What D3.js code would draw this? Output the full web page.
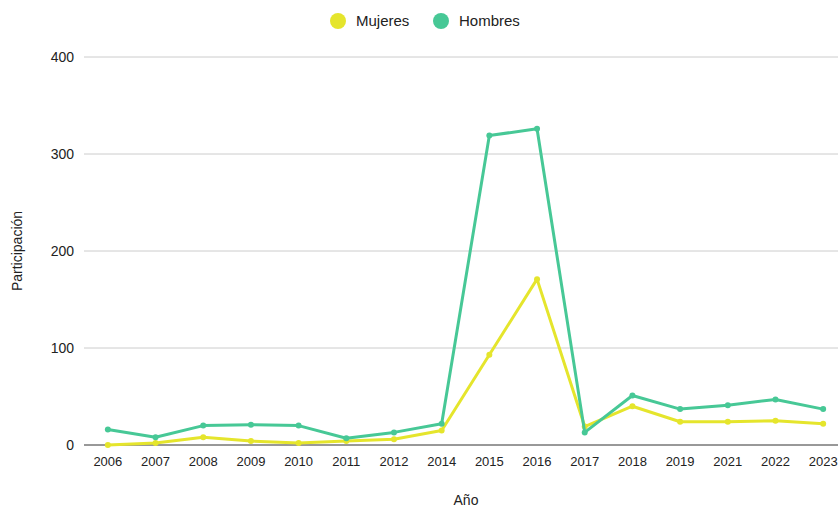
<!DOCTYPE html>
<html>
<head>
<meta charset="utf-8">
<script src="https://cdn.jsdelivr.net/npm/d3@7"></script>
<style>
  body { margin: 0; background: #fff; }
  svg { display: block; font-family: "Liberation Sans", Arial, sans-serif; }
</style>
</head>
<body>
<svg id="chart"></svg>
<script>
const years = ['2006','2007','2008','2009','2010','2011','2012','2014','2015','2016','2017','2018','2019','2021','2022','2023'];
const mujeres = [0, 2, 8, 4, 2, 4, 6, 15, 93, 171, 19, 40, 24, 24, 25, 22];
const hombres = [16, 8, 20, 21, 20, 7, 13, 22, 319, 326, 13, 51, 37, 41, 47, 37];
const yTicks = [0, 100, 200, 300, 400];

const series = [
  { name: 'Mujeres', values: mujeres, color: '#e5e52c' },
  { name: 'Hombres', values: hombres, color: '#47c896' }
];

const width = 838, height = 509;
const svg = d3.select('#chart').attr('width', width).attr('height', height);

const x = d3.scalePoint().domain(years).range([84, 847]).padding(0.5);
const y = d3.scaleLinear().domain([0, 400]).range([445, 57]);

// grid
svg.append('g')
  .selectAll('line')
  .data(yTicks.filter(d => d > 0))
  .join('line')
  .attr('x1', 84).attr('x2', width)
  .attr('y1', d => y(d)).attr('y2', d => y(d))
  .attr('stroke', '#cccccc').attr('stroke-width', 1);

// y labels
svg.append('g')
  .selectAll('text')
  .data(yTicks)
  .join('text')
  .attr('x', 74).attr('y', d => y(d))
  .attr('dy', '0.35em')
  .attr('text-anchor', 'end')
  .attr('font-size', 14)
  .attr('fill', '#222')
  .text(d => d);

// x axis
svg.append('line')
  .attr('x1', 84).attr('x2', width)
  .attr('y1', y(0)).attr('y2', y(0))
  .attr('stroke', '#333').attr('stroke-width', 1);

svg.append('g')
  .selectAll('text')
  .data(years)
  .join('text')
  .attr('x', d => x(d)).attr('y', 466)
  .attr('text-anchor', 'middle')
  .attr('font-size', 13)
  .attr('fill', '#222')
  .text(d => d);

// axis titles
svg.append('text')
  .attr('x', 466).attr('y', 505)
  .attr('text-anchor', 'middle')
  .attr('font-size', 14).attr('fill', '#222')
  .text('Año');

svg.append('text')
  .attr('transform', 'translate(22,251) rotate(-90)')
  .attr('text-anchor', 'middle')
  .attr('font-size', 14).attr('fill', '#222')
  .text('Participación');

// lines
const line = d3.line()
  .x((d, i) => x(years[i]))
  .y(d => y(d));

series.forEach(s => {
  svg.append('path')
    .datum(s.values)
    .attr('fill', 'none')
    .attr('stroke', s.color)
    .attr('stroke-width', 3)
    .attr('stroke-linejoin', 'round')
    .attr('d', line);

  svg.append('g')
    .selectAll('circle')
    .data(s.values)
    .join('circle')
    .attr('cx', (d, i) => x(years[i]))
    .attr('cy', d => y(d))
    .attr('r', 3)
    .attr('fill', s.color);
});

// legend
const legend = svg.append('g');
const legendX = [338, 441];
series.forEach((s, i) => {
  legend.append('circle')
    .attr('cx', legendX[i]).attr('cy', 21).attr('r', 8)
    .attr('fill', s.color);
  legend.append('text')
    .attr('x', legendX[i] + 18).attr('y', 21)
    .attr('dy', '0.35em')
    .attr('font-size', 15).attr('fill', '#222')
    .text(s.name);
});
</script>
</body>
</html>
